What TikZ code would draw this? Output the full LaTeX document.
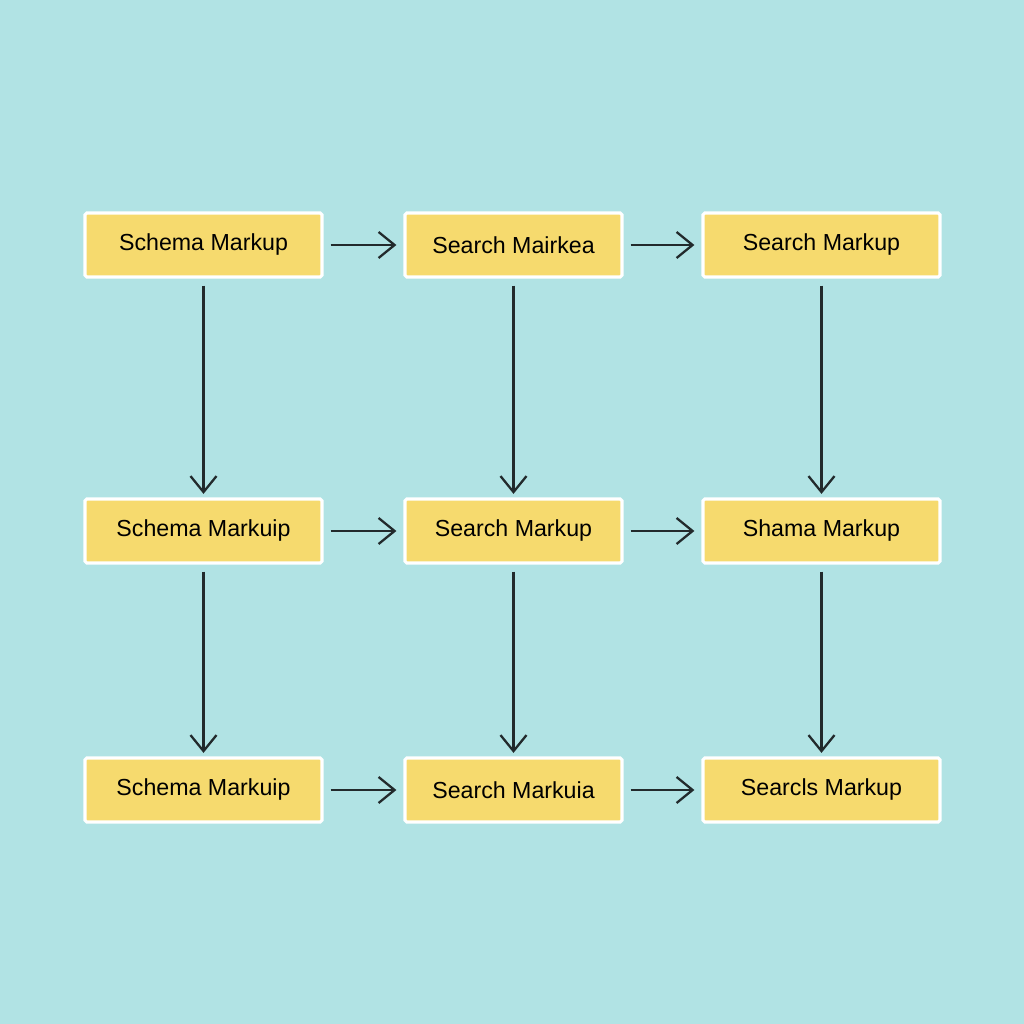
\documentclass[tikz,border=0pt]{standalone}
\usepackage{fontspec}
\setmainfont{Liberation Sans}
\usetikzlibrary{arrows.meta}
\definecolor{bgcyan}{HTML}{B1E3E4}
\definecolor{boxyellow}{HTML}{F6DA6E}
\definecolor{linegray}{HTML}{222A2C}
\begin{document}
\begin{tikzpicture}
	[%
	markbox/.style={rectangle,	draw=white,	fill=boxyellow,	line width=0.9pt,	rounded corners=0.5pt,	inner sep=0pt,	minimum width=2.37cm,	minimum height=0.64cm,	font=\fontsize{6.6}{8}\selectfont},%
	flow/.style   ={-{Straight Barb[length=1.6mm,width=2.6mm]},	draw=linegray,	line width=0.65pt},%
	]
	\fill [bgcyan] (0,0) rectangle (10.24,10.24);
	\useasboundingbox (0,0) rectangle (10.24,10.24);

	\newcommand{\cola}{2.035}
	\newcommand{\colb}{5.135}
	\newcommand{\colc}{8.215}

	% nodes
	\node (box1_1) at (\cola,7.79) [markbox] {Schema Markup};
	\node (box1_2) at (\colb,7.79) [markbox, minimum width=2.17cm] {Search Mairkea};
	\node (box1_3) at (\colc,7.79) [markbox] {Search Markup};
	\node (box2_1) at (\cola,4.93) [markbox] {Schema Markuip};
	\node (box2_2) at (\colb,4.93) [markbox, minimum width=2.17cm] {Search Markup};
	\node (box2_3) at (\colc,4.93) [markbox] {Shama Markup};
	\node (box3_1) at (\cola,2.34) [markbox] {Schema Markuip};
	\node (box3_2) at (\colb,2.34) [markbox, minimum width=2.17cm] {Search Markuia};
	\node (box3_3) at (\colc,2.34) [markbox] {Searcls Markup};

	% interconnections
	\foreach \r in {1,2,3}%
		\foreach \c/\d in {1/2,2/3}%
			\draw [flow, shorten <=2pt, shorten >=2pt] (box\r_\c) -- (box\r_\d);
	\foreach \r/\s in {1/2,2/3}%
		\foreach \c in {1,2,3}%
			\draw [flow, shorten <=2pt, shorten >=1pt] (box\r_\c) -- (box\s_\c);

\end{tikzpicture}
\end{document}
